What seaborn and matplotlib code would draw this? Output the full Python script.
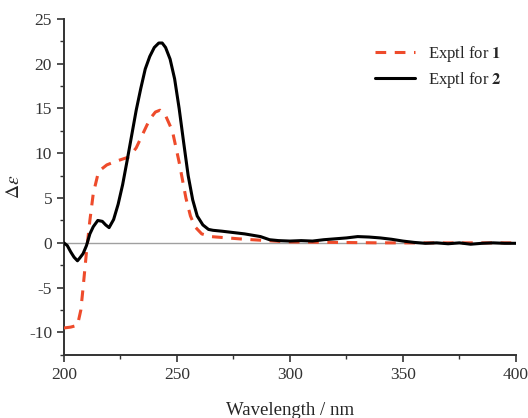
import matplotlib
matplotlib.use("Agg")
import matplotlib.pyplot as plt
import pandas as pd
import seaborn as sns
from matplotlib.ticker import MultipleLocator

# CD spectra
wl_1 = [200, 203, 206, 207.5, 208.5, 210, 211.5, 213, 215, 216.5, 219, 223, 229, 232,
        235, 238, 240.5, 242.5, 245, 248, 251, 254, 256, 258, 261, 265, 270, 280,
        290, 300, 320, 340, 360, 380, 400]
de_1 = [-9.5, -9.4, -9.2, -7.5, -5.0, -1.0, 2.5, 5.5, 7.6, 8.2, 8.7, 9.1, 9.6, 10.6,
        12.2, 13.8, 14.6, 14.8, 14.2, 12.5, 9.0, 5.0, 3.0, 1.8, 1.0, 0.7, 0.6, 0.4,
        0.25, 0.1, 0.05, 0.0, 0.0, 0.0, 0.0]

wl_2 = [200, 201.5, 203, 204.5, 206, 207, 208.5, 210, 211.5, 213, 215, 217, 218.5,
        220, 222, 224, 226, 228, 230, 232, 234, 236, 238, 240, 242, 243.5, 245,
        247, 249, 251, 253, 255, 257, 259, 261.5, 264, 266, 270, 275, 280, 287,
        291, 295, 300, 305, 310, 315, 320, 325, 330, 335, 340, 345, 350, 355,
        360, 365, 370, 375, 380, 385, 390, 395, 400]
de_2 = [0.0, -0.3, -1.0, -1.6, -2.0, -1.7, -1.2, -0.3, 1.0, 1.8, 2.5, 2.4, 2.0,
        1.7, 2.6, 4.3, 6.5, 9.2, 12.0, 14.8, 17.2, 19.4, 20.8, 21.8, 22.3, 22.3,
        21.8, 20.5, 18.3, 15.0, 11.2, 7.5, 4.8, 3.0, 2.0, 1.5, 1.4, 1.3, 1.15,
        1.0, 0.7, 0.35, 0.25, 0.2, 0.25, 0.2, 0.35, 0.45, 0.55, 0.7, 0.65, 0.55,
        0.4, 0.2, 0.05, -0.05, 0.0, -0.1, 0.0, -0.15, -0.05, 0.0, -0.05, -0.05]

labels = ["Exptl for $\\mathbf{1}$", "Exptl for $\\mathbf{2}$"]

df = pd.concat([
    pd.DataFrame({"wl": wl_1, "de": de_1, "series": labels[0]}),
    pd.DataFrame({"wl": wl_2, "de": de_2, "series": labels[1]}),
])

sns.set_style("ticks")
plt.rcParams["font.family"] = ["Liberation Serif", "DejaVu Serif"]
plt.rcParams["mathtext.fontset"] = "stix"
plt.rcParams["axes.unicode_minus"] = False

fig = plt.figure(figsize=(5.28, 4.18), dpi=100)
ax = fig.add_axes([0.121, 0.151, 0.856, 0.804])

ax.axhline(0, color="#a0a0a0", lw=1.0, zorder=1)
sns.lineplot(data=df, x="wl", y="de", hue="series", style="series",
             palette={labels[0]: "#ee4b2b", labels[1]: "black"},
             dashes={labels[0]: (3.5, 2.8), labels[1]: ""},
             linewidth=2.2, ax=ax, sort=False, zorder=3)

ax.set_xlim(200, 400)
ax.set_ylim(-12.5, 25)
ax.xaxis.set_major_locator(MultipleLocator(50))
ax.xaxis.set_minor_locator(MultipleLocator(25))
ax.yaxis.set_major_locator(MultipleLocator(5))
ax.yaxis.set_minor_locator(MultipleLocator(2.5))
ax.tick_params(which="major", length=5, width=1.2, labelsize=12.5,
               color="#333333", labelcolor="#333333")
ax.tick_params(which="minor", length=3, width=1.0, color="#333333")
for s in ["left", "bottom"]:
    ax.spines[s].set_linewidth(1.4)
    ax.spines[s].set_color("#333333")
sns.despine(ax=ax)

ax.set_xlabel("Wavelength / nm", fontsize=13.5, labelpad=14)
ax.set_ylabel("$\\Delta\\varepsilon$", fontsize=14, labelpad=4)

leg = ax.legend(loc="upper left", bbox_to_anchor=(0.655, 0.97), frameon=False,
                fontsize=12, handlelength=2.4, labelspacing=0.35)
for h in leg.legend_handles:
    h.set_linewidth(2.2)

fig.savefig("out.png", dpi=100)
